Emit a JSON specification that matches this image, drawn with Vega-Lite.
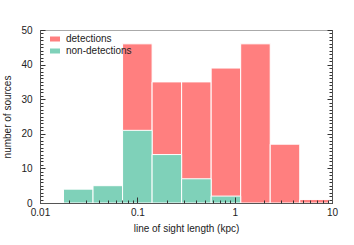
{
  "$schema": "https://vega.github.io/schema/vega-lite/v6.json",
  "width": 292,
  "height": 173,
  "autosize": "none",
  "padding": {"left": 40, "top": 30, "right": 22, "bottom": 42},
  "background": "white",
  "config": {
    "font": "Liberation Sans",
    "view": {"stroke": "#aaaaaa", "strokeWidth": 1},
    "axis": {
      "labelFont": "Liberation Sans", "labelFontSize": 10, "labelColor": "#222222",
      "titleFont": "Liberation Sans", "titleFontSize": 10, "titleFontWeight": "normal", "titleColor": "#222222",
      "domainColor": "#555555", "tickColor": "#333333", "tickWidth": 1, "grid": false
    }
  },
  "data": {
    "values": [
      {"type": "detections", "lo": 0.07052, "hi": 0.1418, "count": 46},
      {"type": "detections", "lo": 0.1418, "hi": 0.2851, "count": 35},
      {"type": "detections", "lo": 0.2851, "hi": 0.5734, "count": 35},
      {"type": "detections", "lo": 0.5734, "hi": 1.153, "count": 39},
      {"type": "detections", "lo": 1.153, "hi": 2.318, "count": 46},
      {"type": "detections", "lo": 2.318, "hi": 4.663, "count": 17},
      {"type": "detections", "lo": 4.663, "hi": 9.376, "count": 1},
      {"type": "non-detections", "lo": 0.01743, "hi": 0.03506, "count": 4},
      {"type": "non-detections", "lo": 0.03506, "hi": 0.07052, "count": 5},
      {"type": "non-detections", "lo": 0.07052, "hi": 0.1418, "count": 21},
      {"type": "non-detections", "lo": 0.1418, "hi": 0.2851, "count": 14},
      {"type": "non-detections", "lo": 0.2851, "hi": 0.5734, "count": 7},
      {"type": "non-detections", "lo": 0.5734, "hi": 1.153, "count": 2}
    ]
  },
  "layer": [
    {
      "mark": {"type": "bar", "stroke": "white", "strokeWidth": 1},
      "encoding": {
        "x": {
          "field": "lo", "type": "quantitative",
          "scale": {"type": "log", "domain": [0.01, 10]},
          "axis": {
            "orient": "bottom", "title": "line of sight length (kpc)", "zindex": 2,
            "values": [0.01, 0.1, 1, 10],
            "format": "~g",
            "labelFlush": false, "labelOverlap": false,
            "tickSize": -6,
            "labelPadding": 10, "titlePadding": 6
          }
        },
        "x2": {"field": "hi"},
        "y": {
          "field": "count", "type": "quantitative", "stack": null,
          "scale": {"domain": [0, 50], "nice": false, "zero": true},
          "axis": {
            "orient": "left", "title": "number of sources", "zindex": 2,
            "values": [0, 10, 20, 30, 40, 50],
            "format": "d", "ticks": false, "tickSize": 0,
            "grid": true, "gridColor": "#333333", "gridWidth": 1, "gridOpacity": 1, "gridDash": [5, 282, 5],
            "labelOverlap": false, "labelFlush": false,
            "labelPadding": 8, "titlePadding": 8
          }
        },
        "y2": {"datum": 0},
        "color": {
          "field": "type", "type": "nominal",
          "scale": {"domain": ["detections", "non-detections"], "range": ["#ff7f7f", "#7fd1b9"]},
          "legend": {
            "title": null, "orient": "none", "legendX": 10, "legendY": 4,
            "symbolType": "M-1,-0.5H1V0.5H-1Z", "symbolSize": 100, "symbolStrokeWidth": 0, "symbolOpacity": 1,
            "labelFont": "Liberation Sans", "labelFontSize": 10, "labelColor": "#222222",
            "rowPadding": 2, "labelOffset": 6, "padding": 0
          }
        }
      }
    },
    {
      "mark": {"type": "bar", "opacity": 0},
      "encoding": {
        "x": {"field": "lo", "type": "quantitative", "axis": null},
        "x2": {"field": "hi"},
        "y": {
          "field": "count", "type": "quantitative", "stack": null,
          "axis": {
            "orient": "right", "title": null, "labels": false, "ticks": false, "domain": true, "zindex": 2,
            "values": [0,1,2,3,4,5,6,7,8,9,10,11,12,13,14,15,16,17,18,19,20,21,22,23,24,25,26,27,28,29,30,31,32,33,34,35,36,37,38,39,40,41,42,43,44,45,46,47,48,49,50],
            "grid": true, "gridColor": "#333333", "gridWidth": 1, "gridOpacity": 1, "gridDash": [3, 286, 3]
          }
        },
        "y2": {"datum": 0}
      }
    },
    {
      "mark": {"type": "bar", "opacity": 0},
      "encoding": {
        "x": {
          "field": "lo", "type": "quantitative",
          "axis": {
            "orient": "bottom", "title": null, "labels": false, "domain": false, "zindex": 2,
            "values": [0.02,0.03,0.04,0.05,0.06,0.07,0.08,0.09,0.2,0.3,0.4,0.5,0.6,0.7,0.8,0.9,2,3,4,5,6,7,8,9],
            "tickSize": -3
          }
        },
        "x2": {"field": "hi"},
        "y": {"field": "count", "type": "quantitative", "stack": null, "axis": null},
        "y2": {"datum": 0}
      }
    }
  ],
  "resolve": {"axis": {"x": "independent", "y": "independent"}}
}
